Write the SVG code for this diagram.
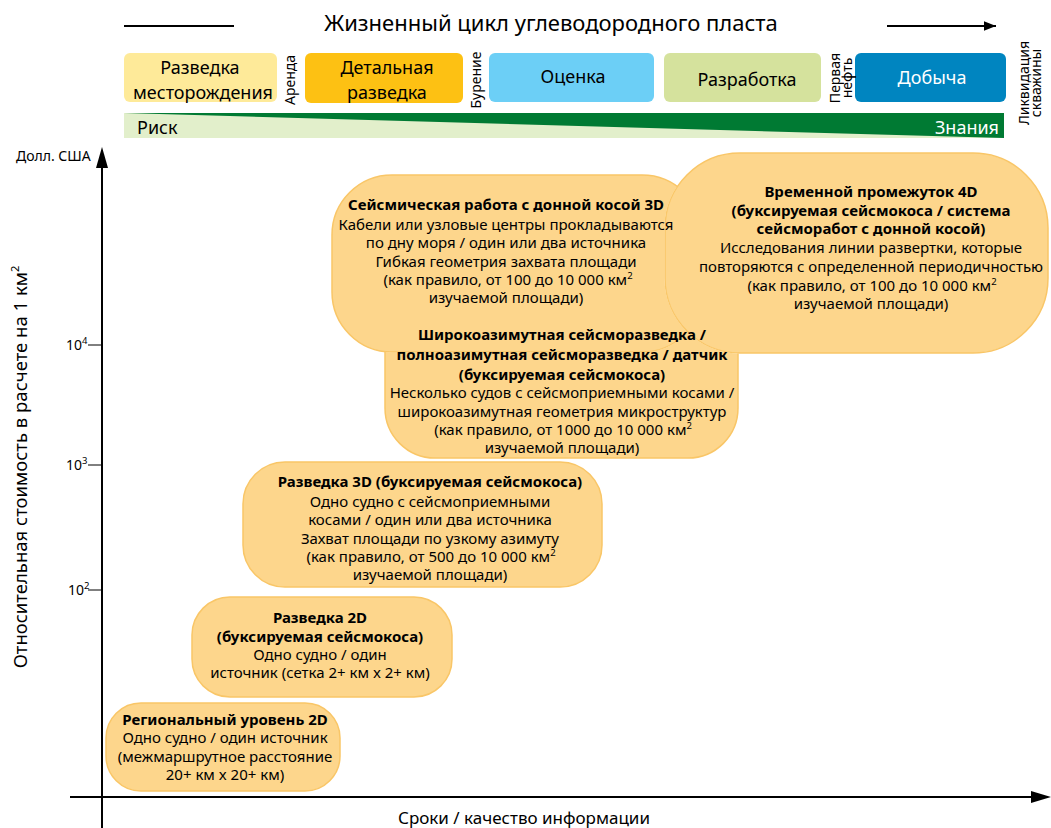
<svg xmlns="http://www.w3.org/2000/svg" xmlns:xlink="http://www.w3.org/1999/xlink" width="1051" height="828" viewBox="0 0 1051 828">
<style>
text{font-family:"Noto Sans","Open Sans","Liberation Sans",sans-serif;fill:#000}
.t{font-size:15px;text-anchor:middle}
.b{font-weight:bold}
.hb{font-size:18px;text-anchor:middle}
.vt{font-size:14px;text-anchor:middle}
.bub{fill:#FDD68C;stroke:#F9C667;stroke-width:1.5}
.ax{stroke:#000;stroke-width:2;fill:none}
.tick{stroke:#000;stroke-width:1}
.sup{font-size:9.5px}
</style>
<defs>
<rect id="s6" x="665" y="153" width="383" height="200" rx="75"/>
<rect id="s5" x="332" y="175" width="370" height="177" rx="60"/>
<mask id="m5" maskUnits="userSpaceOnUse" x="0" y="0" width="1051" height="828">
<rect x="0" y="0" width="1051" height="828" fill="#fff"/>
<use xlink:href="#s6" fill="#000" stroke="#000" stroke-width="1"/>
</mask>
<mask id="m4" maskUnits="userSpaceOnUse" x="0" y="0" width="1051" height="828">
<rect x="0" y="0" width="1051" height="828" fill="#fff"/>
<use xlink:href="#s6" fill="#000" stroke="#000" stroke-width="1"/>
<use xlink:href="#s5" fill="#000" stroke="#000" stroke-width="1"/>
</mask>
<marker id="ah" viewBox="0 0 10 10" refX="10" refY="5" markerWidth="6" markerHeight="6" orient="auto" markerUnits="strokeWidth"><path d="M0 1 L10 5 L0 9Z" fill="#000"/></marker>
</defs>

<g id="header">
<text x="551" y="31" style="font-size:22px;text-anchor:middle">Жизненный цикл углеводородного пласта</text>
<line x1="124" y1="26" x2="234" y2="26" stroke="#000" stroke-width="2"/>
<line x1="887" y1="26" x2="996" y2="26" stroke="#000" stroke-width="2" marker-end="url(#ah)"/>
</g>

<g id="phase-1"><rect x="124" y="53" width="153" height="49" rx="6" fill="#FEEA99"/>
<text class="hb" x="200" y="74">Разведка</text><text class="hb" x="203" y="99">месторождения</text></g>
<g id="phase-2"><rect x="305" y="53" width="158" height="50" rx="6" fill="#FDC113"/>
<text class="hb" x="387" y="74">Детальная</text><text class="hb" x="387" y="99">разведка</text></g>
<g id="phase-3"><rect x="489" y="53" width="165" height="49" rx="6" fill="#6CCFF6"/>
<text class="hb" x="573" y="83">Оценка</text></g>
<g id="phase-4"><rect x="664" y="53" width="157" height="49" rx="6" fill="#D5E29D"/>
<text class="hb" x="747" y="86">Разработка</text></g>
<g id="phase-5"><rect x="855" y="53" width="151" height="49" rx="6" fill="#0085C0"/>
<text class="hb" x="932" y="84" style="fill:#fff">Добыча</text></g>

<g id="milestones">
<text class="vt" transform="translate(295,80) rotate(-90)">Аренда</text>
<text class="vt" transform="translate(481,80) rotate(-90)">Бурение</text>
<text class="vt" transform="translate(840,78) rotate(-90)">Первая</text>
<text class="vt" transform="translate(852,78) rotate(-90)">нефть</text>
<line x1="847" y1="77" x2="856" y2="77" stroke="#000" stroke-width="1"/>
<text class="vt" transform="translate(1029,83) rotate(-90)">Ликвидация</text>
<text class="vt" transform="translate(1041,83) rotate(-90)">скважины</text>
</g>

<g id="risk-band">
<rect x="124" y="113" width="880" height="25" fill="#E2EFCB"/>
<polygon points="124,113 1004,113 1004,138" fill="#007A33"/>
<text x="137" y="134" style="font-size:18px">Риск</text>
<text x="999" y="134" style="font-size:18px;text-anchor:end;fill:#fff">Знания</text>
</g>

<g id="axes">
<line class="ax" x1="102" y1="828" x2="102" y2="164"/>
<polygon points="102,147 96,168 108,168" fill="#000"/>
<line class="ax" x1="70" y1="797" x2="1034" y2="797"/>
<polygon points="1051,797 1031,791 1031,803" fill="#000"/>
<line class="tick" x1="88" y1="345" x2="102" y2="345"/>
<line class="tick" x1="88" y1="465" x2="102" y2="465"/>
<line class="tick" x1="88" y1="590" x2="102" y2="590"/>
<text x="66" y="350" style="font-size:14px">10<tspan dy="-6" class="sup">4</tspan></text>
<text x="66" y="470" style="font-size:14px">10<tspan dy="-6" class="sup">3</tspan></text>
<text x="68" y="595" style="font-size:14px">10<tspan dy="-6" class="sup">2</tspan></text>
<text x="16" y="161" style="font-size:14px">Долл. США</text>
<text transform="translate(27,467) rotate(-90)" style="font-size:18.5px;text-anchor:middle">Относительная стоимость в расчете на 1 км<tspan dy="-8" style="font-size:11px">2</tspan></text>
<text x="524" y="824" style="font-size:17px;text-anchor:middle">Сроки / качество информации</text>
</g>

<g id="node-1">
<rect class="bub" x="106" y="703" width="234" height="88" rx="35"/>
<text class="t b" x="225" y="725">Региональный уровень 2D</text>
<text class="t" x="225" y="743">Одно судно / один источник</text>
<text class="t" x="225" y="762">(межмаршрутное расстояние</text>
<text class="t" x="225" y="780">20+ км x 20+ км)</text>
</g>
<g id="node-2">
<rect class="bub" x="192" y="597" width="260" height="100" rx="38"/>
<text class="t b" x="320" y="623">Разведка 2D</text>
<text class="t b" x="320" y="642">(буксируемая сейсмокоса)</text>
<text class="t" x="320" y="660">Одно судно / один</text>
<text class="t" x="320" y="678">источник (сетка 2+ км x 2+ км)</text>
</g>
<g id="node-3">
<rect class="bub" x="243" y="462" width="359" height="125" rx="42"/>
<text class="t b" x="430" y="487">Разведка 3D (буксируемая сейсмокоса)</text>
<text class="t" x="430" y="507">Одно судно с сейсмоприемными</text>
<text class="t" x="430" y="525">косами / один или два источника</text>
<text class="t" x="430" y="544">Захват площади по узкому азимуту</text>
<text class="t" x="431" y="562">(как правило, от 500 до 10 000 км<tspan dy="-6" class="sup">2</tspan></text>
<text class="t" x="430" y="580">изучаемой площади)</text>
</g>
<g id="node-6">
<use xlink:href="#s6" class="bub"/>
<text class="t b" x="871" y="197">Временной промежуток 4D</text>
<text class="t b" x="871" y="216">(буксируемая сейсмокоса / система</text>
<text class="t b" x="871" y="234">сейсморабот с донной косой)</text>
<text class="t" x="871" y="253">Исследования линии развертки, которые</text>
<text class="t" x="871" y="272">повторяются с определенной периодичностью</text>
<text class="t" x="872" y="291">(как правило, от 100 до 10 000 км<tspan dy="-6" class="sup">2</tspan></text>
<text class="t" x="871" y="309">изучаемой площади)</text>
</g>
<g id="node-5">
<use xlink:href="#s5" class="bub" mask="url(#m5)"/>
<text class="t b" x="506" y="210">Сейсмическая работа с донной косой 3D</text>
<text class="t" x="506" y="230">Кабели или узловые центры прокладываются</text>
<text class="t" x="506" y="248">по дну моря / один или два источника</text>
<text class="t" x="506" y="267">Гибкая геометрия захвата площади</text>
<text class="t" x="508" y="285">(как правило, от 100 до 10 000 км<tspan dy="-6" class="sup">2</tspan></text>
<text class="t" x="506" y="303">изучаемой площади)</text>
</g>
<g id="node-4">
<rect class="bub" x="385" y="300" width="353" height="158" rx="50" mask="url(#m4)"/>
<text class="t b" x="562" y="340">Широкоазимутная сейсморазведка /</text>
<text class="t b" x="562" y="360">полноазимутная сейсморазведка / датчик</text>
<text class="t b" x="562" y="380">(буксируемая сейсмокоса)</text>
<text class="t" x="562" y="398">Несколько судов с сейсмоприемными косами /</text>
<text class="t" x="562" y="417">широкоазимутная геометрия микроструктур</text>
<text class="t" x="563" y="435">(как правило, от 1000 до 10 000 км<tspan dy="-6" class="sup">2</tspan></text>
<text class="t" x="562" y="453">изучаемой площади)</text>
</g>
</svg>
